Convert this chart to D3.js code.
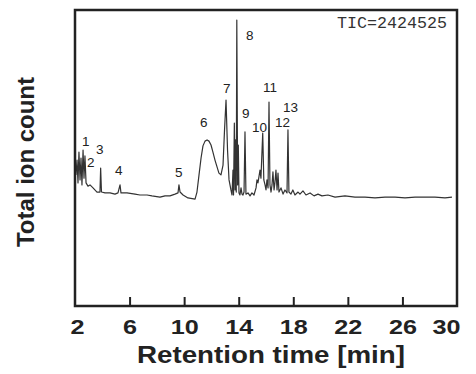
<!DOCTYPE html>
<html>
<head>
<meta charset="utf-8">
<script src="https://cdn.jsdelivr.net/npm/d3@7"></script>
<style>
  html, body { margin: 0; padding: 0; background: #fff; }
  text { font-family: Arial, "Liberation Sans", sans-serif; fill: #222; }
</style>
</head>
<body>
<div id="chart"></div>
<script>
// chart size
var w = 476;
var h = 374;
var margin = {top: 10, right: 19, bottom: 68, left: 75};

// retention time [min] and relative total ion count (% of frame height)
var times = [2.07, 2.15, 2.22, 2.29, 2.37, 2.44, 2.51, 2.59, 2.66, 2.73, 2.81, 2.95, 3.10, 3.32, 3.61,
  3.83, 3.88, 3.94, 4.20, 4.57, 4.93, 5.15, 5.30, 5.37, 5.81, 6.40, 6.76, 7.28, 7.64, 8.23, 8.60,
  8.96, 9.33, 9.55, 9.62, 9.70, 9.92, 10.28, 10.80, 10.94, 11.09, 11.24, 11.38, 11.53, 11.68, 11.82,
  11.97, 12.11, 12.26, 12.41, 12.55, 12.70, 12.85, 12.96, 13.07, 13.18, 13.29, 13.43, 13.51, 13.58,
  13.62, 13.68, 13.73, 13.77, 13.82, 13.86, 13.92, 13.97, 14.02, 14.09, 14.17, 14.24, 14.31, 14.39,
  14.46, 14.53, 14.68, 14.83, 14.97, 15.12, 15.27, 15.34, 15.41, 15.49, 15.56, 15.63, 15.76, 15.84,
  15.93, 16.00, 16.07, 16.15, 16.22, 16.29, 16.37, 16.44, 16.51, 16.59, 16.66, 16.73, 16.81, 16.88,
  16.95, 17.10, 17.25, 17.39, 17.54, 17.61, 17.68, 17.83, 17.97, 18.12, 18.35, 18.49, 18.71, 18.93,
  19.23, 19.52, 19.81, 20.10, 20.54, 21.06, 21.79, 22.52, 23.26, 23.99, 24.72, 25.46, 26.19, 26.92,
  27.65, 28.39, 29.12, 29.63];
var counts = [44.3, 49.3, 41.6, 52.0, 42.6, 50.0, 40.9, 52.7, 43.2, 50.7, 41.6, 40.5, 40.9, 39.9, 38.5,
  38.5, 46.6, 38.5, 38.2, 38.2, 37.8, 38.2, 40.9, 38.2, 38.2, 37.8, 37.5, 37.5, 37.2, 36.8, 37.2,
  37.2, 37.8, 38.2, 40.9, 38.5, 37.5, 36.5, 36.1, 38.5, 44.3, 50.0, 54.1, 55.7, 56.1, 55.7,
  54.4, 52.0, 49.3, 47.0, 44.9, 44.3, 47.6, 59.5, 69.6, 52.7, 42.6, 39.2, 37.5, 45.9,
  37.5, 61.8, 39.2, 56.1, 38.5, 96.6, 40.9, 54.4, 38.2, 37.5, 39.9, 37.8, 37.5, 38.5,
  58.8, 37.8, 38.2, 37.2, 38.2, 37.5, 39.9, 42.6, 41.6, 43.9, 45.9, 43.2, 58.4, 42.6,
  40.9, 39.2, 42.6, 39.9, 68.9, 40.9, 38.5, 40.9, 45.3, 39.2, 41.9, 45.9, 39.2, 44.9,
  38.5, 39.9, 37.8, 39.2, 38.2, 59.5, 38.5, 37.8, 39.2, 37.5, 38.5, 37.8, 38.9, 37.5,
  38.2, 37.2, 37.8, 37.2, 37.5, 36.8, 37.2, 36.8, 36.8, 36.5, 36.8, 36.8, 36.5, 36.8,
  36.8, 36.8, 36.5, 36.8];

// peak numbers and where their labels sit (time, count)
var peakNames = ["1", "2", "3", "4", "5", "6", "7", "8", "9", "10", "11", "12", "13"];
var peakLabelTimes = [2.51, 2.88, 3.54, 4.93, 9.33, 11.16, 12.85, 14.53, 14.24, 14.97, 15.78, 16.66, 17.25];
var peakLabelCounts = [54.1, 47.0, 51.4, 44.3, 43.6, 60.5, 72.0, 89.9, 63.5, 58.8, 72.3, 60.5, 65.5];

var xTicks = [2, 6, 10, 14, 18, 22, 26, 30];
var ticText = "TIC=2424525";

var trace = times.map(function(t, i) { return [t, counts[i]]; });

var svg = d3.select("#chart")
  .append("svg")
  .attr("width", w)
  .attr("height", h);

var x = d3.scaleLinear().domain([2, 30]).range([margin.left, w - margin.right]);
var y = d3.scaleLinear().domain([0, 100]).range([h - margin.bottom, margin.top]);

//x axis with inward ticks
var xAxis = svg.append("g")
  .attr("transform", "translate(0," + y(0) + ")")
  .call(d3.axisBottom(x).tickValues(xTicks).tickSizeInner(-9).tickSizeOuter(0).tickPadding(14));
xAxis.select(".domain").remove();
xAxis.selectAll(".tick line")
  .attr("stroke", "#222")
  .attr("stroke-width", 2)
  .attr("opacity", function(d) { return (d == 2 || d == 30) ? 0 : 1; });
xAxis.selectAll(".tick text")
  .attr("fill", "#222")
  .style("font-size", "20px")
  .style("font-weight", "bold")
  .attr("textLength", function(d) { return String(d).length * 14; })
  .attr("lengthAdjust", "spacingAndGlyphs")
  .attr("x", function(d) { return d == 30 ? -11 : (d == 2 ? 2 : 0); });

//chromatogram trace
var line = d3.line()
  .x(function(d) { return x(d[0]); })
  .y(function(d) { return y(d[1]); });

svg.append("path")
  .datum(trace)
  .attr("d", line)
  .attr("fill", "none")
  .attr("stroke", "#333")
  .attr("stroke-width", 1.2)
  .attr("stroke-linejoin", "round");

//frame
svg.append("rect")
  .attr("x", x(2))
  .attr("y", y(100))
  .attr("width", x(30) - x(2))
  .attr("height", y(0) - y(100))
  .attr("fill", "none")
  .attr("stroke", "#222")
  .attr("stroke-width", 2.5);

//peak labels
svg.selectAll(".peak")
  .data(peakNames)
  .enter()
  .append("text")
  .attr("class", "peak")
  .attr("x", function(d, i) { return x(peakLabelTimes[i]); })
  .attr("y", function(d, i) { return y(peakLabelCounts[i]); })
  .style("font-size", "13.5px")
  .text(function(d) { return d; });

//TIC value
svg.append("text")
  .attr("x", 337)
  .attr("y", 28)
  .attr("textLength", 110)
  .attr("lengthAdjust", "spacingAndGlyphs")
  .style("font-family", "'Liberation Mono', 'Courier New', monospace")
  .style("font-size", "16px")
  .style("fill", "#333")
  .text(ticText);

//axis titles
svg.append("text")
  .attr("x", 271)
  .attr("y", 363)
  .attr("text-anchor", "middle")
  .attr("textLength", 268)
  .attr("lengthAdjust", "spacingAndGlyphs")
  .style("font-size", "23px")
  .style("font-weight", "bold")
  .text("Retention time [min]");

svg.append("text")
  .attr("transform", "translate(34,162) rotate(-90)")
  .attr("text-anchor", "middle")
  .attr("textLength", 170)
  .attr("lengthAdjust", "spacingAndGlyphs")
  .style("font-size", "23.5px")
  .style("font-weight", "bold")
  .text("Total ion count");
</script>
</body>
</html>
